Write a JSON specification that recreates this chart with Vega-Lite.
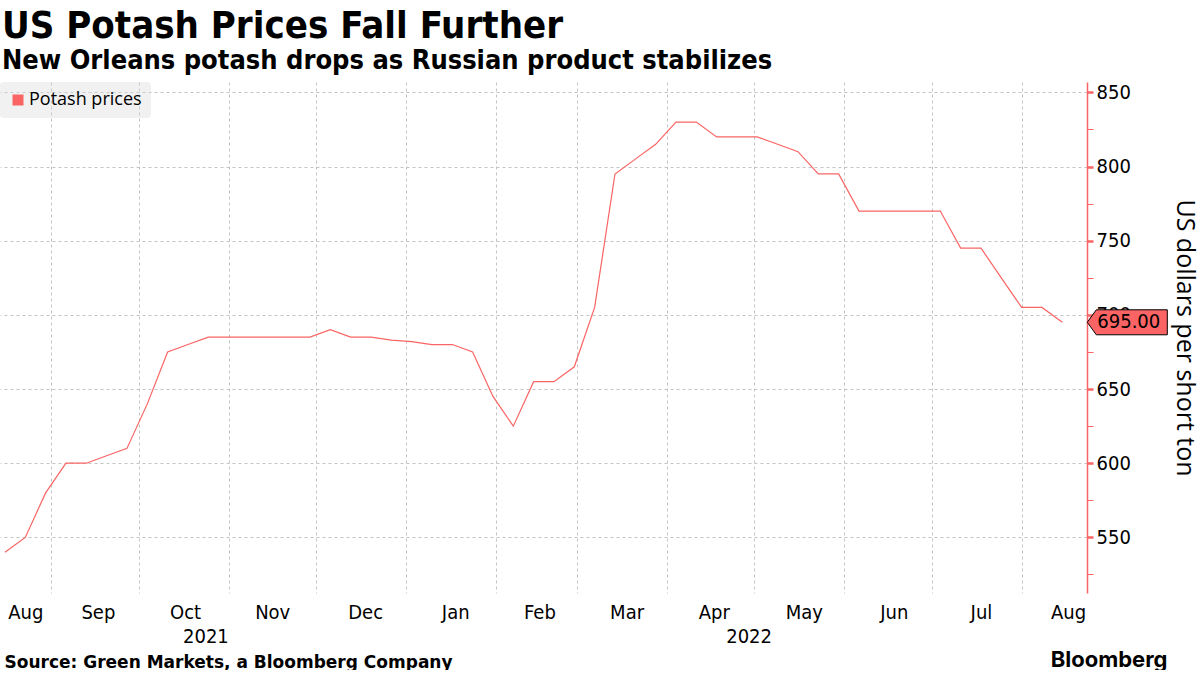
{
  "$schema": "https://vega.github.io/schema/vega-lite/v6.json",
  "width": 1087,
  "height": 511,
  "padding": {"left": 0, "top": 8, "right": 4, "bottom": 0},
  "background": "white",
  "title": {
    "text": "US Potash Prices Fall Further",
    "subtitle": "New Orleans potash drops as Russian product stabilizes",
    "anchor": "start",
    "frame": "group",
    "dx": 2,
    "font": "DejaVu Sans Condensed, Liberation Sans Narrow, DejaVu Sans",
    "fontSize": 38,
    "fontWeight": "bold",
    "color": "#000000",
    "subtitleFont": "DejaVu Sans Condensed, Liberation Sans Narrow, DejaVu Sans",
    "subtitleFontSize": 27,
    "subtitleFontWeight": "bold",
    "subtitleColor": "#000000",
    "subtitlePadding": 2,
    "offset": 8
  },
  "config": {
    "view": {"stroke": null},
    "legend": {
      "orient": "top-left",
      "offset": 0,
      "padding": 9,
      "fillColor": "rgba(215,215,215,0.35)",
      "cornerRadius": 3,
      "labelFont": "Open Sans",
      "labelFontSize": 18,
      "labelColor": "#000000",
      "labelOffset": 2,
      "symbolType": "square",
      "symbolSize": 121
    }
  },
  "data": {
    "values": [
      {"date": "2021-08-16", "price": 540},
      {"date": "2021-08-23", "price": 550},
      {"date": "2021-08-30", "price": 580},
      {"date": "2021-09-06", "price": 600},
      {"date": "2021-09-13", "price": 600},
      {"date": "2021-09-20", "price": 605},
      {"date": "2021-09-27", "price": 610},
      {"date": "2021-10-04", "price": 640},
      {"date": "2021-10-11", "price": 675},
      {"date": "2021-10-18", "price": 680},
      {"date": "2021-10-25", "price": 685},
      {"date": "2021-11-01", "price": 685},
      {"date": "2021-11-08", "price": 685},
      {"date": "2021-11-15", "price": 685},
      {"date": "2021-11-22", "price": 685},
      {"date": "2021-11-29", "price": 685},
      {"date": "2021-12-06", "price": 690},
      {"date": "2021-12-13", "price": 685},
      {"date": "2021-12-20", "price": 685},
      {"date": "2021-12-27", "price": 683},
      {"date": "2022-01-03", "price": 682},
      {"date": "2022-01-10", "price": 680},
      {"date": "2022-01-17", "price": 680},
      {"date": "2022-01-24", "price": 675},
      {"date": "2022-01-31", "price": 645},
      {"date": "2022-02-07", "price": 625},
      {"date": "2022-02-14", "price": 655},
      {"date": "2022-02-21", "price": 655},
      {"date": "2022-02-28", "price": 665},
      {"date": "2022-03-07", "price": 705},
      {"date": "2022-03-14", "price": 795},
      {"date": "2022-03-21", "price": 805},
      {"date": "2022-03-28", "price": 815},
      {"date": "2022-04-04", "price": 830},
      {"date": "2022-04-11", "price": 830},
      {"date": "2022-04-18", "price": 820},
      {"date": "2022-04-25", "price": 820},
      {"date": "2022-05-02", "price": 820},
      {"date": "2022-05-09", "price": 815},
      {"date": "2022-05-16", "price": 810},
      {"date": "2022-05-23", "price": 795},
      {"date": "2022-05-30", "price": 795},
      {"date": "2022-06-06", "price": 770},
      {"date": "2022-06-13", "price": 770},
      {"date": "2022-06-20", "price": 770},
      {"date": "2022-06-27", "price": 770},
      {"date": "2022-07-04", "price": 770},
      {"date": "2022-07-11", "price": 745},
      {"date": "2022-07-18", "price": 745},
      {"date": "2022-07-25", "price": 725},
      {"date": "2022-08-01", "price": 705},
      {"date": "2022-08-08", "price": 705},
      {"date": "2022-08-15", "price": 695}
    ],
    "format": {"parse": {"date": "utc:'%Y-%m-%d'"}}
  },
  "resolve": {"axis": {"x": "independent", "y": "independent"}},
  "layer": [
    {
      "mark": {"type": "line", "strokeWidth": 1.2, "interpolate": "linear"},
      "encoding": {
        "x": {
          "field": "date",
          "type": "temporal",
          "scale": {
            "type": "utc",
            "domain": [
              {"year": 2021, "month": 8, "date": 14, "hours": 7, "utc": true},
              {"year": 2022, "month": 8, "date": 23, "hours": 12, "utc": true}
            ]
          },
          "axis": {
            "orient": "bottom",
            "values": [
              {"year": 2021, "month": 8, "date": 23, "utc": true},
              {"year": 2021, "month": 9, "date": 17, "utc": true},
              {"year": 2021, "month": 10, "date": 17, "utc": true},
              {"year": 2021, "month": 11, "date": 16, "utc": true},
              {"year": 2021, "month": 12, "date": 18, "utc": true},
              {"year": 2022, "month": 1, "date": 18, "utc": true},
              {"year": 2022, "month": 2, "date": 16, "utc": true},
              {"year": 2022, "month": 3, "date": 18, "utc": true},
              {"year": 2022, "month": 4, "date": 17, "utc": true},
              {"year": 2022, "month": 5, "date": 18, "utc": true},
              {"year": 2022, "month": 6, "date": 18, "utc": true},
              {"year": 2022, "month": 7, "date": 18, "utc": true},
              {"year": 2022, "month": 8, "date": 17, "utc": true}
            ],
            "labelExpr": "utcFormat(datum.value, '%b')",
            "grid": false,
            "ticks": false,
            "tickSize": 0,
            "domain": false,
            "labelFont": "DejaVu Sans Condensed, Liberation Sans Narrow, DejaVu Sans",
            "labelFontSize": 20,
            "labelColor": "#000000",
            "labelPadding": 9,
            "labelOverlap": false,
            "labelFlush": false,
            "labelBound": false,
            "title": "Source: Green Markets, a Bloomberg Company",
            "titleFont": "DejaVu Sans",
            "titleFontWeight": "bold",
            "titleFontSize": 17,
            "titleColor": "#000000",
            "titleX": 4,
            "titleY": 74,
            "titleAlign": "left",
            "titleAnchor": "start",
            "titleBaseline": "alphabetic"
          }
        },
        "y": {
          "field": "price",
          "type": "quantitative",
          "scale": {"domain": [512.5, 857], "nice": false, "zero": false},
          "axis": {
            "orient": "right",
            "values": [550, 600, 650, 700, 750, 800, 850],
            "grid": true,
            "gridColor": "#c4c4c4",
            "gridDash": [3, 3],
            "domain": true,
            "domainColor": "#fa6464",
            "domainWidth": 1.5,
            "ticks": true,
            "tickColor": "#fa6464",
            "tickSize": 6,
            "tickWidth": 2.5,
            "labelFont": "DejaVu Sans Condensed, Liberation Sans Narrow, DejaVu Sans",
            "labelFontSize": 20,
            "labelColor": "#000000",
            "labelPadding": 3,
            "title": "US dollars per short ton",
            "titleFont": "Open Sans",
            "titleFontSize": 25,
            "titleFontWeight": "normal",
            "titleColor": "#000000",
            "titleAngle": 90,
            "titleX": 89,
            "titleY": 255.5,
            "titleAlign": "center",
            "titleBaseline": "alphabetic"
          }
        },
        "color": {
          "datum": "Potash prices",
          "scale": {"range": ["#fa6464"]},
          "legend": {
            "title": null,
            "encode": {
              "symbols": {
                "update": {
                  "fill": {"value": "#fa6464"},
                  "stroke": {"value": "#fa6464"},
                  "strokeWidth": {"value": 0}
                }
              }
            }
          }
        }
      }
    },
    {
      "transform": [
        {"joinaggregate": [{"op": "max", "field": "date", "as": "last"}]},
        {"filter": "+datum.date === +datum.last"}
      ],
      "mark": {
        "type": "point",
        "shape": "M0,0L0.225,-0.3125L2,-0.3125L2,0.3125L0.225,0.3125Z",
        "size": 6400,
        "filled": true,
        "fill": "#fa6464",
        "stroke": "#000000",
        "strokeWidth": 1,
        "opacity": 1,
        "xOffset": 25
      },
      "encoding": {
        "x": {
          "field": "date",
          "type": "temporal",
          "axis": {
            "orient": "bottom",
            "values": [
              {"year": 2021, "month": 9, "date": 1, "utc": true},
              {"year": 2021, "month": 10, "date": 1, "utc": true},
              {"year": 2021, "month": 11, "date": 1, "utc": true},
              {"year": 2021, "month": 12, "date": 1, "utc": true},
              {"year": 2022, "month": 1, "date": 1, "utc": true},
              {"year": 2022, "month": 2, "date": 1, "utc": true},
              {"year": 2022, "month": 3, "date": 1, "utc": true},
              {"year": 2022, "month": 4, "date": 1, "utc": true},
              {"year": 2022, "month": 5, "date": 1, "utc": true},
              {"year": 2022, "month": 6, "date": 1, "utc": true},
              {"year": 2022, "month": 7, "date": 1, "utc": true},
              {"year": 2022, "month": 8, "date": 1, "utc": true}
            ],
            "grid": true,
            "gridColor": "#c4c4c4",
            "gridDash": [3, 3],
            "labels": false,
            "ticks": false,
            "domain": false,
            "title": "Bloomberg",
            "titleFont": "Inter",
            "titleFontWeight": "bold",
            "titleFontSize": 22,
            "titleColor": "#000000",
            "titleX": 1167,
            "titleY": 73,
            "titleAlign": "right",
            "titleBaseline": "alphabetic"
          }
        },
        "y": {
          "field": "price",
          "type": "quantitative",
          "axis": {
            "orient": "right",
            "values": [525, 575, 625, 675, 725, 775, 825],
            "labels": false,
            "grid": false,
            "domain": false,
            "ticks": true,
            "tickColor": "#fa6464",
            "tickSize": 6,
            "tickWidth": 1,
            "title": null
          }
        }
      }
    },
    {
      "transform": [
        {"joinaggregate": [{"op": "max", "field": "date", "as": "last"}]},
        {"filter": "+datum.date === +datum.last"}
      ],
      "mark": {
        "type": "text",
        "align": "left",
        "baseline": "middle",
        "dx": 10,
        "xOffset": 25,
        "font": "DejaVu Sans Condensed, Liberation Sans Narrow, DejaVu Sans",
        "fontSize": 20,
        "color": "#000000"
      },
      "encoding": {
        "x": {
          "field": "date",
          "type": "temporal",
          "axis": {
            "orient": "bottom",
            "values": [
              {"year": 2021, "month": 10, "date": 24, "utc": true},
              {"year": 2022, "month": 4, "date": 29, "utc": true}
            ],
            "labelExpr": "utcFormat(datum.value, '%Y')",
            "grid": false,
            "ticks": false,
            "domain": false,
            "labelFont": "DejaVu Sans Condensed, Liberation Sans Narrow, DejaVu Sans",
            "labelFontSize": 20,
            "labelColor": "#000000",
            "labelPadding": 33,
            "labelOverlap": false,
            "labelFlush": false,
            "title": null
          }
        },
        "y": {"field": "price", "type": "quantitative", "axis": null},
        "text": {"field": "price", "type": "quantitative", "format": ".2f"}
      }
    }
  ]
}
